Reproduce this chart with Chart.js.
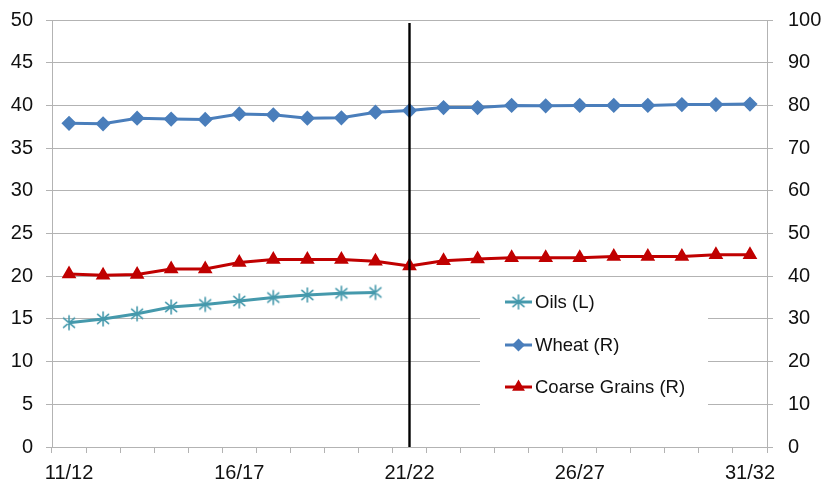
<!DOCTYPE html>
<html>
<head>
<meta charset="utf-8">
<script src="https://cdn.jsdelivr.net/npm/chart.js@4/dist/chart.umd.min.js"></script>
<style>
html,body{margin:0;padding:0;background:#fff;}
#wrap{width:821px;height:487px;}
</style>
</head>
<body>
<div id="wrap"><canvas id="c" width="821" height="487"></canvas></div>
<script>
const categories = ['11/12','12/13','13/14','14/15','15/16','16/17','17/18','18/19','19/20','20/21','21/22','22/23','23/24','24/25','25/26','26/27','27/28','28/29','29/30','30/31','31/32'];
const shownLabels = ['11/12','16/17','21/22','26/27','31/32'];
const dividerCategory = '21/22';
const oils = [14.55,15.0,15.6,16.4,16.7,17.1,17.5,17.8,18.0,18.1,null,null,null,null,null,null,null,null,null,null,null];
const wheat = [75.8,75.7,77.0,76.8,76.7,78.0,77.8,77.0,77.1,78.4,78.8,79.5,79.5,80.0,79.9,80.0,80.0,80.0,80.2,80.2,80.3];
const coarseGrains = [40.5,40.2,40.4,41.7,41.7,43.2,43.9,43.9,43.9,43.5,42.4,43.6,44.0,44.3,44.3,44.3,44.6,44.6,44.6,45.0,45.0];
const seriesNames = ['Oils (L)','Wheat (R)','Coarse Grains (R)'];
const leftAxis = {min:0,max:50,step:5};
const rightAxis = {min:0,max:100,step:10};

const FONT = 'Liberation Sans, Arial, sans-serif';
const GRID = '#b3b3b3';

function makeAsterisk(color, r){
  const c = document.createElement('canvas');
  const s = r*2+4;
  c.width = s; c.height = s;
  const g = c.getContext('2d');
  g.strokeStyle = color; g.lineWidth = 1.6; g.lineCap='round';
  const m = s/2;
  g.beginPath();
  g.moveTo(m, m-r); g.lineTo(m, m+r);
  const d = r*0.78;
  g.moveTo(m-d, m-d*0.85); g.lineTo(m+d, m+d*0.85);
  g.moveTo(m-d, m+d*0.85); g.lineTo(m+d, m-d*0.85);
  g.stroke();
  return c;
}
const oilsColor = '#4599ac';
const oilsMarker = makeAsterisk(oilsColor, 7);

const dividerPlugin = {
  id:'divider',
  afterDatasetsDraw(chart){
    const ctx = chart.ctx, x = chart.scales.x.getPixelForValue(categories.indexOf(dividerCategory));
    ctx.save();
    ctx.strokeStyle = '#000'; ctx.lineWidth = 2.4;
    ctx.beginPath();
    ctx.moveTo(x, chart.chartArea.top+3);
    ctx.lineTo(x, chart.chartArea.bottom);
    ctx.stroke();
    ctx.restore();
  }
};

const legendPlugin = {
  id:'boxLegend',
  afterDatasetsDraw(chart){
    const ctx = chart.ctx;
    ctx.save();
    ctx.fillStyle = '#fff';
    ctx.fillRect(480, 281, 228, 162);
    const rows = [302, 345, 387];
    chart.data.datasets.forEach((ds, i) => {
      const y = rows[i];
      ctx.strokeStyle = ds.borderColor; ctx.lineWidth = 3;
      ctx.beginPath(); ctx.moveTo(505, y); ctx.lineTo(532, y); ctx.stroke();
      ctx.fillStyle = ds.pointBackgroundColor || ds.borderColor;
      ctx.strokeStyle = ds.pointBorderColor || ds.borderColor;
      Chart.helpers.drawPoint(ctx, {pointStyle: ds.pointStyle, radius: ds.pointRadius*0.8, rotation:0, borderWidth:1}, 518.5, y);
      ctx.fillStyle = '#111';
      ctx.font = '18.5px ' + FONT;
      ctx.textBaseline = 'middle';
      ctx.textAlign = 'left';
      ctx.fillText(ds.label, 535, y+1);
    });
    ctx.restore();
  }
};

new Chart(document.getElementById('c'), {
  type:'line',
  data:{
    labels: categories,
    datasets:[
      {label: seriesNames[0], data: oils, yAxisID:'y', borderColor: oilsColor, backgroundColor: oilsColor,
       pointStyle: oilsMarker, pointRadius:7, borderWidth:3, spanGaps:false, pointBorderColor: oilsColor, pointBackgroundColor: oilsColor},
      {label: seriesNames[1], data: wheat, yAxisID:'y2', borderColor:'#4a7ebb', backgroundColor:'#4a7ebb',
       pointStyle:'rectRot', pointRadius:5.5, borderWidth:3, pointBorderColor:'#4a7ebb', pointBackgroundColor:'#4a7ebb'},
      {label: seriesNames[2], data: coarseGrains, yAxisID:'y2', borderColor:'#c00000', backgroundColor:'#c00000',
       pointStyle:'triangle', pointRadius:5.5, borderWidth:3, pointBorderColor:'#c00000', pointBackgroundColor:'#c00000'}
    ]
  },
  options:{
    responsive:false,
    animation:false,
    devicePixelRatio:1,
    layout:{padding:{top:20,left:0,right:0,bottom:0}},
    plugins:{legend:{display:false}, tooltip:{enabled:false}},
    elements:{line:{tension:0}},
    scales:{
      x:{
        offset:true,
        grid:{offset:true, drawOnChartArea:false, drawTicks:true, tickLength:6, color:GRID},
        border:{color:GRID, width:1},
        ticks:{autoSkip:false, maxRotation:0, minRotation:0, padding:8, color:'#111', font:{family:FONT, size:20},
          callback:(v,i)=> shownLabels.includes(categories[i]) ? categories[i] : ''},
        afterFit:s=>{s.height = 40; s.paddingLeft = 0; s.paddingRight = 0;}
      },
      y:{
        position:'left', min:leftAxis.min, max:leftAxis.max,
        grid:{color:GRID, tickLength:6, lineWidth:1},
        border:{color:GRID, width:1},
        ticks:{stepSize:leftAxis.step, padding:13, color:'#111', font:{family:FONT, size:20}},
        afterFit:s=>{s.width = 52; s.paddingTop = 0; s.paddingBottom = 0;}
      },
      y2:{
        position:'right', min:rightAxis.min, max:rightAxis.max,
        grid:{drawOnChartArea:false, color:GRID, tickLength:6},
        border:{color:GRID, width:1},
        ticks:{stepSize:rightAxis.step, padding:15, color:'#111', font:{family:FONT, size:20}},
        afterFit:s=>{s.width = 54; s.paddingTop = 0; s.paddingBottom = 0;}
      }
    }
  },
  plugins:[legendPlugin, dividerPlugin]
});
</script>
</body>
</html>
